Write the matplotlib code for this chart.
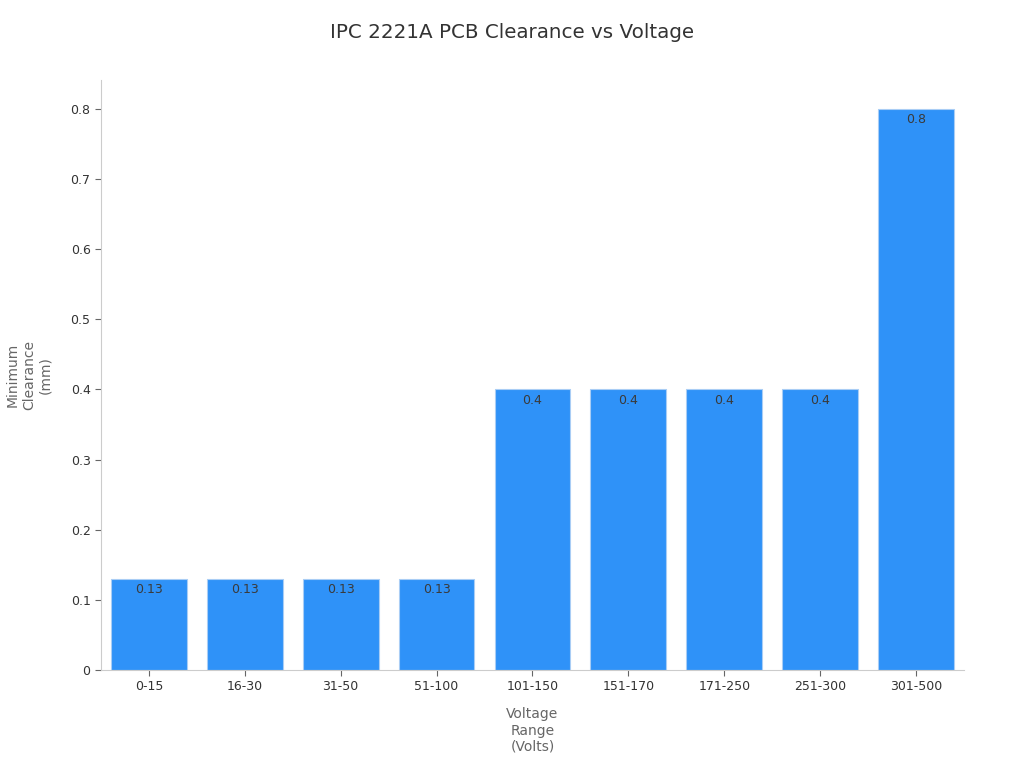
import matplotlib.pyplot as plt

ranges = ["0-15", "16-30", "31-50", "51-100", "101-150", "151-170", "171-250", "251-300", "301-500"]
clearance = [0.13, 0.13, 0.13, 0.13, 0.4, 0.4, 0.4, 0.4, 0.8]

fig = plt.figure(figsize=(10.24, 7.68), dpi=100)
ax = fig.add_axes([0.0986, 0.1276, 0.8428, 0.7682])

bars = ax.bar(range(len(ranges)), clearance, width=0.79, color="#2f92f8",
              edgecolor="#a9cdf5", linewidth=0.8)
for b, v in zip(bars, clearance):
    ax.text(b.get_x() + b.get_width() / 2, v - 0.006, f"{v:g}", ha="center", va="top",
            fontsize=9, color="#3a3a3a")

ax.set_xlim(-0.5, len(ranges) - 0.5)
ax.set_ylim(0, 0.841)
ax.set_xticks(range(len(ranges)))
ax.set_xticklabels(ranges)
ax.set_yticks([0, 0.1, 0.2, 0.3, 0.4, 0.5, 0.6, 0.7, 0.8])
ax.set_yticklabels(["0", "0.1", "0.2", "0.3", "0.4", "0.5", "0.6", "0.7", "0.8"])
ax.tick_params(labelsize=9, colors="#333333", length=4, width=0.8)
ax.tick_params(color="#666666")

for s in ["top", "right"]:
    ax.spines[s].set_visible(False)
for s in ["left", "bottom"]:
    ax.spines[s].set_color("#cccccc")

ax.set_xlabel("Voltage\nRange\n(Volts)", fontsize=10, color="#666666", labelpad=10)
ax.set_ylabel("Minimum\nClearance\n(mm)", fontsize=10, color="#666666", labelpad=13)
fig.suptitle("IPC 2221A PCB Clearance vs Voltage", fontsize=14.3, color="#333333", y=0.97)

fig.savefig("out.png", dpi=100)
